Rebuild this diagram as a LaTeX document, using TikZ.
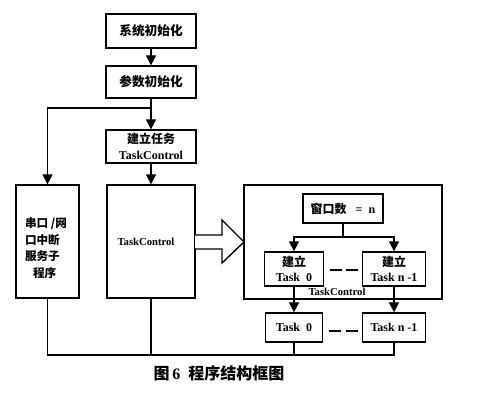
\documentclass[tikz,border=0pt]{standalone}
\usepackage{fontspec}
\setmainfont{Liberation Serif}
\newfontfamily\cjk{Noto Sans CJK SC}
\usetikzlibrary{arrows.meta}
\begin{document}
\begin{tikzpicture}[x=0.75pt,y=-0.75pt,line width=1pt,
  box/.style={draw,inner sep=0pt,align=center,font=\bfseries\fontsize{9}{11.5}\selectfont},
  arr/.style={-{Triangle[length=7.5pt,width=7.5pt]}},
  dsh/.style={line width=2.2pt}]
\useasboundingbox (0,0) rectangle (482,416);
\node[box,minimum width=67.5pt,minimum height=25.5pt,font=\bfseries\fontsize{9.5}{11.5}\selectfont] (b1) at (151,31) {\cjk 系统初始化};
\node[box,minimum width=67.5pt,minimum height=24pt,font=\bfseries\fontsize{9.5}{11.5}\selectfont] (b2) at (151,82) {\cjk 参数初始化};
\node[box,minimum width=67.5pt,minimum height=24.75pt] (b3) at (151,146.5) {{\cjk 建立任务}\\TaskControl};
\node[box,minimum width=66pt,minimum height=84.75pt] (tc) at (151,241.5) {};
\node[font=\bfseries\fontsize{8}{10}\selectfont] (tct) at (146,242) {TaskControl};
\node[box,minimum width=47.25pt,minimum height=84.75pt] (ser) at (47.5,241.5) {};
\node[align=left,inner sep=0pt,font=\bfseries\fontsize{8.7}{12.5}\selectfont\cjk] (sert) at (46,248) {串口 /网\\口中断\\服务子\\\hspace{6pt}程序};
\node[draw,minimum width=148.5pt,minimum height=85.5pt,inner sep=0pt] (cont) at (343,242) {};
\node[box,minimum width=60pt,minimum height=21.75pt] (win) at (343,208.5) {{\cjk 窗口数}~ ~= ~n};
\node[box,minimum width=44.25pt,minimum height=25.5pt] (c0) at (294,269) {{\cjk 建立}\\Task~ 0};
\node[box,minimum width=47.25pt,minimum height=25.5pt] (cn) at (394,269) {{\cjk 建立}\\Task n -1};
\node[font=\bfseries\fontsize{8}{10}\selectfont,inner sep=0pt] (ctl) at (337,292) {TaskControl};
\node[box,minimum width=42.75pt,minimum height=21.75pt] (t0) at (294,327.5) {Task~ 0};
\node[box,minimum width=47.25pt,minimum height=21.75pt] (tn) at (394,327.5) {Task n -1};
\node[font=\bfseries\fontsize{12}{14}\selectfont] (cap) at (219,373) {{\cjk 图}\,6 ~{\cjk 程序结构框图}};
\coordinate (j1) at (151,108);
\coordinate (sp) at (343,237);
\coordinate (bot) at (0,355);
\draw[arr] (b1) -- (b2);
\draw[arr] (b2) -- (b3);
\draw[arr] (j1) -| (ser.north);
\draw[arr] (b3) -- (tc);
\draw (win.south) -- (sp);
\draw[arr] (sp) -| (c0.north);
\draw[arr] (sp) -| (cn.north);
\draw[arr] (c0) -- (t0);
\draw[arr] (cn) -- (tn);
\draw (ser.south) -- (ser.south |- bot) -- (tn.south |- bot) -- (tn.south);
\draw (tc.south) -- (tc.south |- bot);
\draw (t0.south) -- (t0.south |- bot);
\draw[dsh] (330,270) -- (342,270) (346,270) -- (358,270);
\draw[dsh] (329,331) -- (341,331) (346,331) -- (358,331);
\draw[fill=white,line join=miter] (195,235) -- (222,235) -- (222,220) -- (244,242) -- (222,263) -- (222,249) -- (195,249);
\end{tikzpicture}
\end{document}
